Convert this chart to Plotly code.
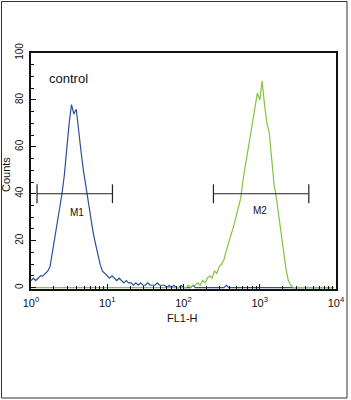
import math
import plotly.graph_objects as go

# ---- data ----
bins_per_decade = 32
blue_counts = [3, 4, 3, 4, 5, 5, 6, 7, 9, 15, 21, 27, 33, 40, 48, 60,
               70, 78, 74, 76, 66, 58, 50, 43, 36, 29, 24, 19, 14, 10, 7, 6,
               5, 4, 5, 4, 3, 4, 3, 2, 3, 2, 2, 1, 2, 1, 2, 1,
               1, 2, 1, 1, 1, 2, 1, 1, 1, 0, 1, 0, 1, 0, 0, 1,
               0, 0, 0, 0, 1, 0, 0, 0, 0, 0, 0, 0, 0, 0, 0, 0,
               0, 0, 1, 0, 0, 0, 0, 0, 0, 0, 0, 0, 0, 0, 0, 0,
               0, 0, 0, 0, 0, 0, 0, 0, 0, 0, 0, 0, 0, 0, 0, 0,
               0, 0, 0, 0, 0, 0, 0, 0, 0, 0, 0, 0, 0, 0, 0, 0]
green_counts = [0, 0, 0, 0, 0, 0, 0, 0, 0, 0, 0, 0, 0, 0, 0, 0,
                0, 0, 0, 0, 0, 0, 0, 0, 0, 0, 0, 0, 0, 0, 0, 0,
                0, 0, 0, 0, 0, 0, 0, 0, 0, 0, 0, 0, 0, 0, 0, 0,
                0, 0, 0, 0, 0, 0, 0, 0, 0, 0, 0, 0, 0, 0, 0, 0,
                0, 0, 1, 0, 1, 1, 2, 1, 3, 2, 4, 5, 4, 7, 6, 9,
                10, 12, 16, 19, 22, 26, 30, 34, 38, 46, 52, 58, 64, 70, 76, 83,
                80, 88, 78, 70, 66, 55, 44, 38, 30, 22, 14, 8, 3, 1, 0, 0,
                0, 0, 0, 0, 0, 0, 0, 0, 0, 0, 0, 0, 0, 0, 0, 0]
x_tickvals = [1, 10, 100, 1000, 10000]
x_ticktext = ["10<sup>0</sup>", "10<sup>1</sup>", "10<sup>2</sup>", "10<sup>3</sup>", "10<sup>4</sup>"]
y_tickvals = [0, 20, 40, 60, 80, 100]
m1_range = [1.2, 11.7]
m2_range = [247, 4400]
marker_level = 40
marker_cap = [36, 44]
m1_label = ("M1", 4.0, 32)
m2_label = ("M2", 1000, 33)
control_label = ("control", 3.1, 89)
x_title = "FL1-H"
y_title = "Counts"

channels = [10 ** (i / bins_per_decade) for i in range(len(blue_counts))]

BLUE = "#2b5099"
GREEN = "#86c23f"
FONT = "Liberation Sans, Arial, sans-serif"
INK = "#111111"

fig = go.Figure()
fig.add_trace(go.Scatter(x=channels, y=blue_counts, mode="lines",
                         line=dict(color=BLUE, width=1.2), hoverinfo="skip"))
fig.add_trace(go.Scatter(x=channels, y=green_counts, mode="lines",
                         line=dict(color=GREEN, width=1.2), hoverinfo="skip"))

for rng in (m1_range, m2_range):
    xs = [rng[0], rng[1], None, rng[0], rng[0], None, rng[1], rng[1]]
    ys = [marker_level, marker_level, None, marker_cap[0], marker_cap[1], None,
          marker_cap[0], marker_cap[1]]
    fig.add_trace(go.Scatter(x=xs, y=ys, mode="lines",
                             line=dict(color="#222222", width=1.2), hoverinfo="skip"))

minor_x = [m * 10 ** d for d in range(4) for m in range(2, 10)]

fig.update_layout(
    width=351, height=400,
    margin=dict(l=31, r=15, t=53, b=111),
    paper_bgcolor="white", plot_bgcolor="white",
    showlegend=False,
    font=dict(family=FONT, color=INK, size=10),
    xaxis=dict(type="log", range=[0, 4], tickvals=x_tickvals, ticktext=x_ticktext,
               automargin=False,
               ticks="inside", ticklen=5, tickcolor=INK, tickwidth=1.2, showgrid=False,
               zeroline=False, showline=True, linecolor=INK, linewidth=1.6,
               mirror=True, tickfont=dict(size=11, color=INK), ticklabelstandoff=3,
               minor=dict(tickvals=minor_x, ticks="inside", ticklen=3,
                          tickcolor=INK, tickwidth=1.2, showgrid=False)),
    yaxis=dict(range=[-0.6, 100], tickvals=y_tickvals, tickangle=-90,
               automargin=False,
               ticks="inside", ticklen=5, tickcolor=INK, tickwidth=1.2, showgrid=False,
               zeroline=False, showline=True, linecolor=INK, linewidth=1.6,
               mirror=True, tickfont=dict(size=10, color=INK), ticklabelstandoff=2,
               minor=dict(dtick=5, ticks="inside", ticklen=3, tickcolor=INK,
                          tickwidth=1.2, showgrid=False)),
)

for text, x, y in (m1_label, m2_label):
    fig.add_annotation(x=math.log10(x), y=y, text=text, showarrow=False,
                       xanchor="center", yanchor="middle",
                       font=dict(size=10, color=INK))
fig.add_annotation(x=math.log10(control_label[1]), y=control_label[2],
                   text=control_label[0], showarrow=False,
                   xanchor="center", yanchor="middle",
                   font=dict(size=13, color=INK))

# axis titles placed to match the reference
fig.add_annotation(xref="paper", yref="paper", x=(182 - 31) / 305, y=(289 - 318) / 236,
                   text=x_title, showarrow=False, xanchor="center", yanchor="middle",
                   font=dict(size=11, color=INK))
fig.add_annotation(xref="paper", yref="paper", x=(6 - 31) / 305, y=(289 - 175) / 236,
                   text=y_title, textangle=-90, showarrow=False,
                   xanchor="center", yanchor="middle",
                   font=dict(size=11, color=INK))

fig.add_shape(type="rect", xref="paper", yref="paper",
              x0=(1.5 - 31) / 305, x1=(347 - 31) / 305,
              y0=(289 - 398) / 236, y1=(289 - 1.5) / 236,
              line=dict(color="#333333", width=1))

fig.write_html("out.html")
